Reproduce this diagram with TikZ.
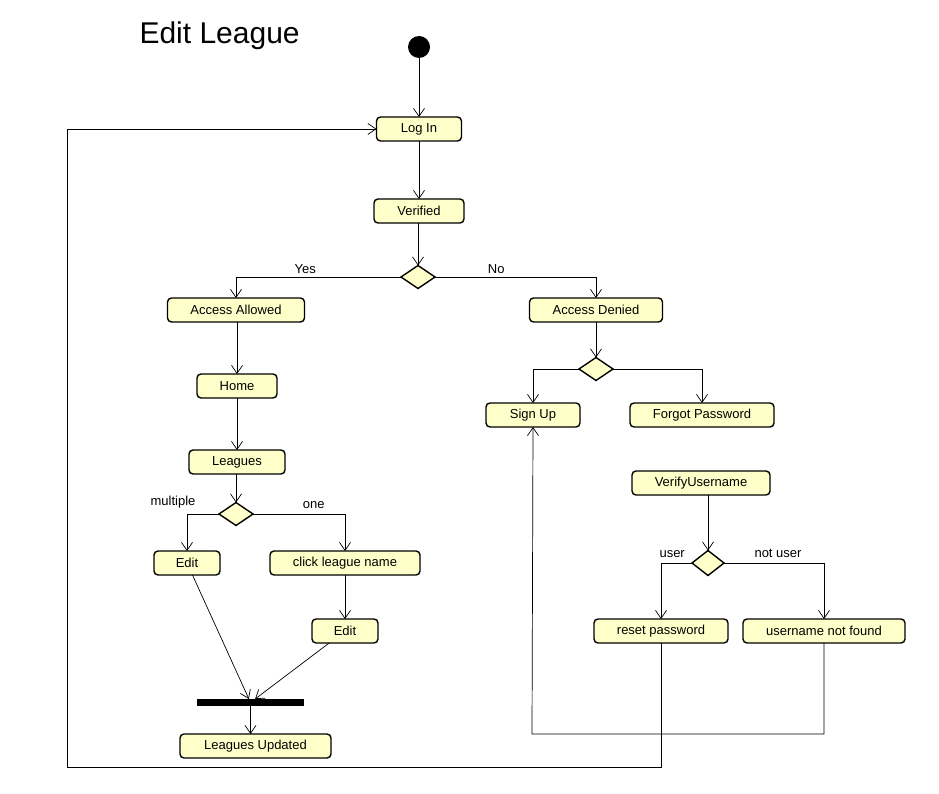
\documentclass[tikz,border=0pt]{standalone}
\usepackage{fontspec}
\setmainfont{Liberation Sans}
\usepackage{tikz}
\usetikzlibrary{shapes.geometric, arrows.meta, positioning}
\definecolor{actyellow}{RGB}{255,255,202}

\begin{document}
\begin{tikzpicture}[
    node distance=1.2cm,
    act/.style={rectangle, draw, line width=1.4pt, rounded corners=4pt, fill=actyellow, minimum height=24pt, inner sep=2pt, outer sep=0pt, align=center, font=\fontsize{13}{15}\selectfont},
    choice/.style={diamond, draw, line width=1.4pt, fill=actyellow, minimum width=34pt, minimum height=23pt, inner sep=0pt, outer sep=0pt},
    arr/.style={-{Straight Barb[length=8pt, width=11pt]}, line width=0.7pt},
    lbl/.style={font=\fontsize{13}{15}\selectfont, inner sep=2pt},
]
\useasboundingbox (0,0) rectangle (939pt,-794pt);

\node[anchor=west, font=\fontsize{30}{36}\selectfont] (title) at (136pt,-36pt) {Edit League};
\node[circle, fill=black, minimum size=22pt, inner sep=0pt, outer sep=0pt] (start) at (419pt,-47pt) {};

\node[act, minimum width=85pt, below=59pt of start] (login) {Log In};
\node[act, minimum width=90pt, below=58pt of login] (verified) {Verified};
\node[choice, below=42.5pt of verified, xshift=-1pt] (access) {};

\node[act, minimum width=137pt, below=9.5pt of access, xshift=-182pt] (allowed) {Access Allowed};
\node[act, minimum width=133pt, below=9.5pt of access, xshift=178pt] (denied) {Access Denied};

% left branch
\node[act, minimum width=80pt, below=52pt of allowed, xshift=1pt] (home) {Home};
\node[act, minimum width=96pt, below=52pt of home] (leagues) {Leagues};
\node[choice, below=28.5pt of leagues, xshift=-1pt] (howmany) {};
\node[act, minimum width=66pt, below=25.5pt of howmany, xshift=-49pt] (editmulti) {Edit};
\node[act, minimum width=150pt, below=25.5pt of howmany, xshift=109pt] (clickname) {click league name};
\node[act, minimum width=66pt, below=44pt of clickname] (editone) {Edit};
\node[rectangle, fill=black, minimum width=107pt, minimum height=7pt, inner sep=0pt, outer sep=0pt, below=56pt of editone, xshift=-94.5pt] (join) {};
\node[act, minimum width=151pt, below=28pt of join, xshift=5pt] (updated) {Leagues Updated};

% right branch
\node[choice, below=35.5pt of denied] (denychoice) {};
\node[act, minimum width=94pt, below=22.5pt of denychoice, xshift=-63pt] (signup) {Sign Up};
\node[act, minimum width=144pt, below=22.5pt of denychoice, xshift=106pt] (forgot) {Forgot Password};
\node[act, minimum width=138pt, below=44pt of forgot, xshift=-1pt] (verifyuser) {VerifyUsername};
\node[choice, minimum width=32pt, minimum height=25pt, below=55.5pt of verifyuser, xshift=7pt] (userchoice) {};
\node[act, minimum width=134pt, below=43.5pt of userchoice, xshift=-47pt] (reset) {reset password};
\node[act, minimum width=162pt, below=43.5pt of userchoice, xshift=116pt] (notfound) {username not found};

\coordinate (backlogin) at (67pt,-767pt);
\coordinate (backsignup) at (532pt,-734pt);

\draw[arr] (start) -- (login);
\draw[arr] (login) -- (verified);
\draw[arr] (verified.south -| access.north) -- (access.north);
\draw[arr] (access.west) -| (allowed.north) node[lbl, pos=0.29, above, yshift=1pt] {Yes};
\draw[arr] (access.east) -| (denied.north) node[lbl, pos=0.19, above, yshift=1pt] {No};

\draw[arr] (allowed.south -| home.north) -- (home.north);
\draw[arr] (home) -- (leagues);
\draw[arr] (leagues.south -| howmany.north) -- (howmany.north);
\draw[arr] (howmany.west) -| (editmulti.north) node[lbl, pos=0.5, above, xshift=-14pt, yshift=3pt] {multiple};
\draw[arr] (howmany.east) -| (clickname.north) node[lbl, pos=0.33, above, yshift=3pt] {one};
\draw[arr] (clickname) -- (editone);
\draw[arr] (editmulti) -- (join);
\draw[arr] (editone) -- (join);
\draw[arr] (join.south) -- (join.south |- updated.north);

\draw[arr] (denied) -- (denychoice);
\draw[arr] (denychoice.west) -| (signup.north);
\draw[arr] (denychoice.east) -| (forgot.north);
\draw[arr] (verifyuser.south -| userchoice.north) -- (userchoice.north);
\draw[arr] (userchoice.west) -| (reset.north) node[lbl, pos=0.32, above, yshift=3pt] {user};
\draw[arr] (userchoice.east) -| (notfound.north) node[lbl, pos=0.27, above, yshift=3pt] {not user};

\draw[arr] (reset.south) |- (backlogin) |- (login.west);
\draw[arr] (notfound.south) |- (backsignup) -- (signup.south);
\end{tikzpicture}
\end{document}
